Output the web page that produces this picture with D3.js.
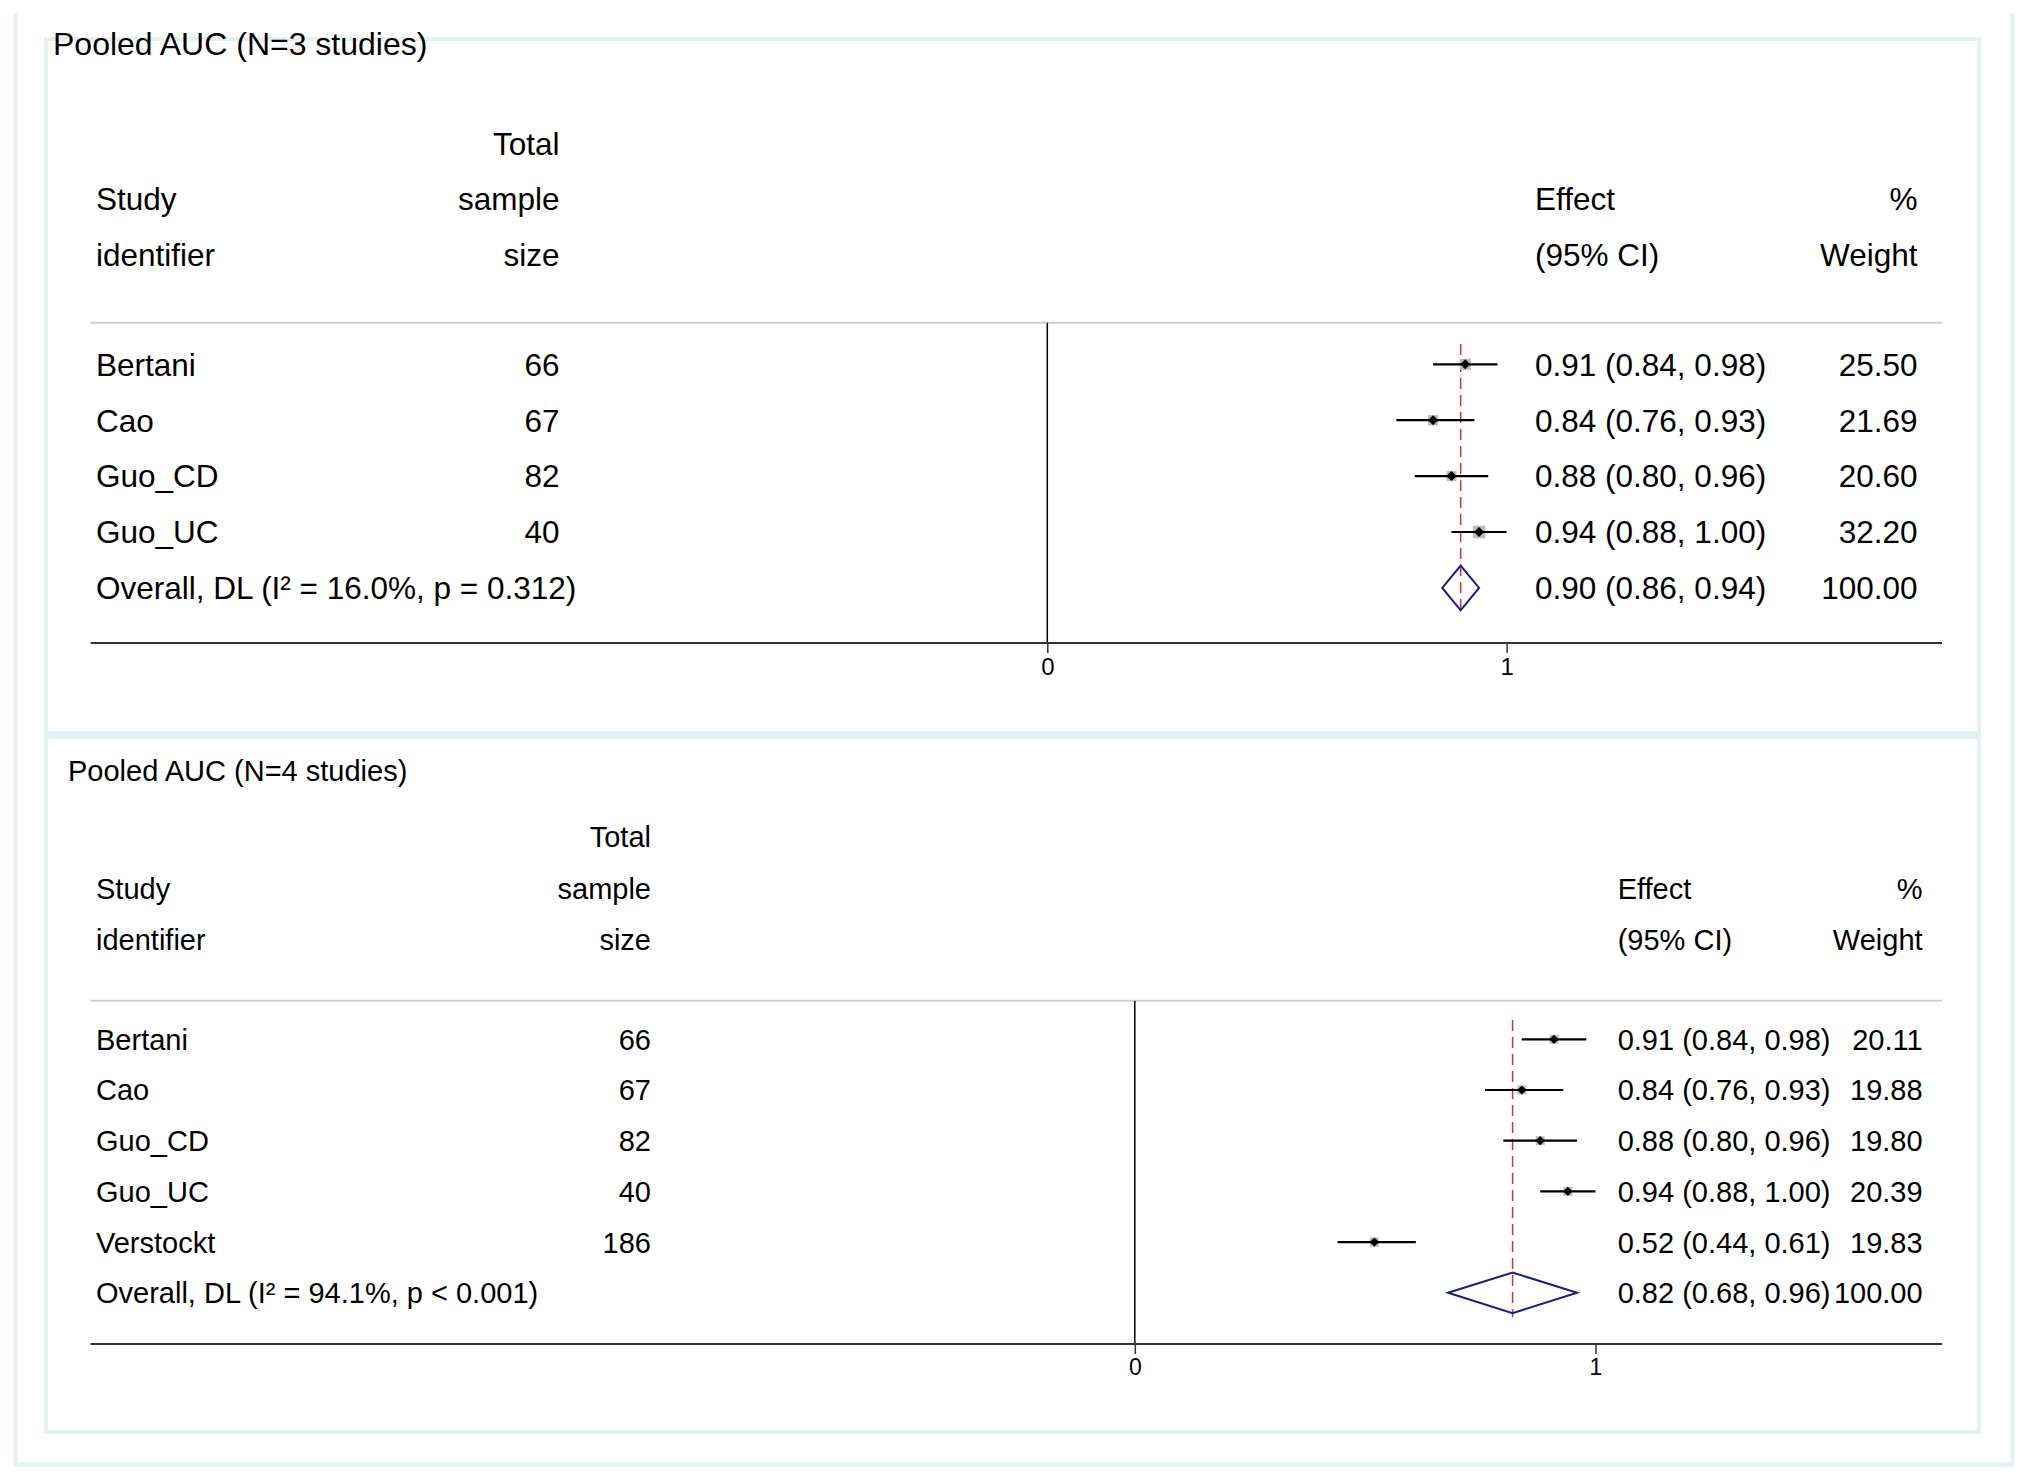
<!DOCTYPE html>
<html>
<head>
<meta charset="utf-8">
<script src="https://cdn.jsdelivr.net/npm/d3@7"></script>
<style>
    html, body { margin: 0; padding: 0; background: #ffffff; }
    svg { display: block; font-family: "Liberation Sans", Arial, Helvetica, sans-serif; }
</style>
</head>
<body>
<div id="chart"></div>
<script>
// ---- data: pooled AUC, first set (N=3 studies) ----
var studiesA = ["Bertani", "Cao", "Guo_CD", "Guo_UC"];
var sampleA = [66, 67, 82, 40];
var effectA = [0.91, 0.84, 0.88, 0.94];
var lowerA = [0.84, 0.76, 0.80, 0.88];
var upperA = [0.98, 0.93, 0.96, 1.00];
var weightA = [25.50, 21.69, 20.60, 32.20];
var overallA = [0.90, 0.86, 0.94];
var overallWeightA = 100.00;
var overallLabelA = "Overall, DL (I\u00b2 = 16.0%, p = 0.312)";
var titleA = "Pooled AUC (N=3 studies)";

// ---- data: pooled AUC, second set (N=4 studies) ----
var studiesB = ["Bertani", "Cao", "Guo_CD", "Guo_UC", "Verstockt"];
var sampleB = [66, 67, 82, 40, 186];
var effectB = [0.91, 0.84, 0.88, 0.94, 0.52];
var lowerB = [0.84, 0.76, 0.80, 0.88, 0.44];
var upperB = [0.98, 0.93, 0.96, 1.00, 0.61];
var weightB = [20.11, 19.88, 19.80, 20.39, 19.83];
var overallB = [0.82, 0.68, 0.96];
var overallWeightB = 100.00;
var overallLabelB = "Overall, DL (I\u00b2 = 94.1%, p < 0.001)";
var titleB = "Pooled AUC (N=4 studies)";

var axisTicks = [0, 1];
var headerLeft = ["", "Study", "identifier"];
var headerN = ["Total", "sample", "size"];
var headerEffect = ["", "Effect", "(95% CI)"];
var headerWeight = ["", "%", "Weight"];

var WIDTH = 2026, HEIGHT = 1480;
var FRAME = "#e6f0f3";

var svg = d3.select("#chart").append("svg")
    .attr("width", WIDTH)
    .attr("height", HEIGHT);

// outer graph region (top edge is cut off in the original)
svg.append("path")
    .attr("d", "M15.5,13 V1464.5 H2012.5 V13")
    .attr("fill", "none")
    .attr("stroke", FRAME)
    .attr("stroke-width", 4);

function forestplot() {
    var _layout, _title, _studies, _sample, _effect, _lower, _upper, _weight, _overall, _overallWeight, _overallLabel;

    function fmt2(v) { return d3.format(".2f")(v); }

    function chart(selection) {
        var L = _layout;
        var g = selection.append("g");

        g.append("rect")
            .attr("x", L.box[0]).attr("y", L.box[1])
            .attr("width", L.box[2] - L.box[0]).attr("height", L.box[3] - L.box[1])
            .attr("fill", "#ffffff")
            .attr("stroke", FRAME)
            .attr("stroke-width", 4);

        g.append("text")
            .attr("x", L.titleX).attr("y", L.titleY)
            .style("font-size", L.titleSize + "px")
            .text(_title);

        var x = d3.scaleLinear().domain([0, 1]).range([L.x0, L.x1]);
        var fs = L.fontSize + "px";
        var rowY = function (i) { return L.rowY0 + i * L.rowH; };

        // header rows
        [headerLeft, headerN, headerEffect, headerWeight].forEach(function (col, c) {
            col.forEach(function (t, i) {
                if (!t) return;
                g.append("text")
                    .attr("x", [L.studyX, L.nX, L.effX, L.wX][c])
                    .attr("y", L.headerY[i])
                    .attr("dy", "0.36em")
                    .attr("text-anchor", (c === 1 || c === 3) ? "end" : "start")
                    .style("font-size", fs)
                    .text(t);
            });
        });

        g.append("line")
            .attr("x1", L.lineX[0]).attr("x2", L.lineX[1])
            .attr("y1", L.ruleY).attr("y2", L.ruleY)
            .attr("stroke", "#cfcfcf").attr("stroke-width", 2);

        // null line at 0
        g.append("line")
            .attr("x1", x(0)).attr("x2", x(0))
            .attr("y1", L.ruleY).attr("y2", L.axisY)
            .attr("stroke", "#000").attr("stroke-width", 1.5);

        var nRows = _studies.length;
        var lastY = rowY(nRows);

        // pooled estimate reference line
        g.append("line")
            .attr("x1", x(_overall[0])).attr("x2", x(_overall[0]))
            .attr("y1", L.ruleY + 0.38 * L.rowH).attr("y2", lastY + 0.48 * L.rowH)
            .attr("stroke", "#c8373b").attr("stroke-width", 1.5)
            .attr("stroke-dasharray", "11,6");

        // study rows
        _studies.forEach(function (s, i) {
            var y = rowY(i);
            g.append("text").attr("x", L.studyX).attr("y", y).attr("dy", "0.36em")
                .style("font-size", fs).text(s);
            g.append("text").attr("x", L.nX).attr("y", y).attr("dy", "0.36em")
                .attr("text-anchor", "end").style("font-size", fs).text(_sample[i]);
            g.append("text").attr("x", L.effX).attr("y", y).attr("dy", "0.36em")
                .style("font-size", fs)
                .text(fmt2(_effect[i]) + " (" + fmt2(_lower[i]) + ", " + fmt2(_upper[i]) + ")");
            g.append("text").attr("x", L.wX).attr("y", y).attr("dy", "0.36em")
                .attr("text-anchor", "end").style("font-size", fs).text(fmt2(_weight[i]));

            var side = L.boxK * Math.sqrt(_weight[i]);
            g.append("rect")
                .attr("x", x(_effect[i]) - side / 2).attr("y", y - side / 2)
                .attr("width", side).attr("height", side)
                .attr("fill", "#bcbcbc");
            g.append("line")
                .attr("x1", x(_lower[i])).attr("x2", x(_upper[i]))
                .attr("y1", y).attr("y2", y)
                .attr("stroke", "#000").attr("stroke-width", 2.2);
            var d = L.dia, cx = x(_effect[i]);
            g.append("path")
                .attr("d", "M" + cx + "," + (y - d) + "L" + (cx + d) + "," + y + "L" + cx + "," + (y + d) + "L" + (cx - d) + "," + y + "Z")
                .attr("fill", "#000");
        });

        // overall row
        g.append("text").attr("x", L.studyX).attr("y", lastY).attr("dy", "0.36em")
            .style("font-size", fs).text(_overallLabel);
        g.append("text").attr("x", L.effX).attr("y", lastY).attr("dy", "0.36em")
            .style("font-size", fs)
            .text(fmt2(_overall[0]) + " (" + fmt2(_overall[1]) + ", " + fmt2(_overall[2]) + ")");
        g.append("text").attr("x", L.wX).attr("y", lastY).attr("dy", "0.36em")
            .attr("text-anchor", "end").style("font-size", fs)
            .text(fmt2(_overallWeight));

        var h = 0.4 * L.rowH;
        g.append("path")
            .attr("d", "M" + x(_overall[1]) + "," + lastY +
                "L" + x(_overall[0]) + "," + (lastY - h) +
                "L" + x(_overall[2]) + "," + lastY +
                "L" + x(_overall[0]) + "," + (lastY + h) + "Z")
            .attr("fill", "none")
            .attr("stroke", "#1a1a8c")
            .attr("stroke-width", 2);

        // x axis
        g.append("line")
            .attr("x1", L.lineX[0]).attr("x2", L.lineX[1])
            .attr("y1", L.axisY).attr("y2", L.axisY)
            .attr("stroke", "#333").attr("stroke-width", 2);

        var axis = g.append("g")
            .attr("transform", "translate(0," + L.axisY + ")")
            .call(d3.axisBottom(x).tickValues(axisTicks).tickSize(10).tickPadding(L.tickPad).tickFormat(d3.format("d")));
        axis.select(".domain").remove();
        axis.selectAll(".tick line").attr("stroke", "#333").attr("stroke-width", 1.5);
        axis.selectAll(".tick text")
            .attr("fill", "#000")
            .style("font-size", L.tickSize + "px")
            .style("font-family", "\"Liberation Sans\", Arial, Helvetica, sans-serif");
    }

    chart.layout = function (value) {
        if (!arguments.length) { return _layout; }
        _layout = value;
        return chart;
    }

    chart.title = function (value) {
        if (!arguments.length) { return _title; }
        _title = value;
        return chart;
    }

    chart.data = function (studies, sample, effect, lower, upper, weight) {
        _studies = studies;
        _sample = sample;
        _effect = effect;
        _lower = lower;
        _upper = upper;
        _weight = weight;
        return chart;
    }

    chart.overall = function (value, weight, label) {
        _overall = value;
        _overallWeight = weight;
        _overallLabel = label;
        return chart;
    }

    return chart;
}

var topPlot = forestplot()
    .layout({
        box: [46, 39, 1979, 733],
        titleX: 53, titleY: 55, titleSize: 32,
        fontSize: 31.5,
        headerY: [143.4, 199.1, 254.8],
        ruleY: 322.7,
        rowY0: 364.3, rowH: 55.9,
        axisY: 643, tickPad: 5, tickSize: 24,
        lineX: [90.5, 1942],
        x0: 1047.3, x1: 1506.6,
        studyX: 96, nX: 559.5, effX: 1535, wX: 1917.5,
        boxK: 2.2, dia: 5
    })
    .title(titleA)
    .data(studiesA, sampleA, effectA, lowerA, upperA, weightA)
    .overall(overallA, overallWeightA, overallLabelA);

var bottomPlot = forestplot()
    .layout({
        box: [46, 737, 1979, 1432],
        titleX: 68, titleY: 781, titleSize: 29,
        fontSize: 29,
        headerY: [837, 889, 939.5],
        ruleY: 1000.7,
        rowY0: 1039.3, rowH: 50.7,
        axisY: 1344, tickPad: 5, tickSize: 23,
        lineX: [90.5, 1942],
        x0: 1134.8, x1: 1595.5,
        studyX: 96, nX: 651, effX: 1617.7, wX: 1922.6,
        boxK: 2.0, dia: 4.6
    })
    .title(titleB)
    .data(studiesB, sampleB, effectB, lowerB, upperB, weightB)
    .overall(overallB, overallWeightB, overallLabelB);

topPlot(svg);
bottomPlot(svg);
</script>
</body>
</html>
